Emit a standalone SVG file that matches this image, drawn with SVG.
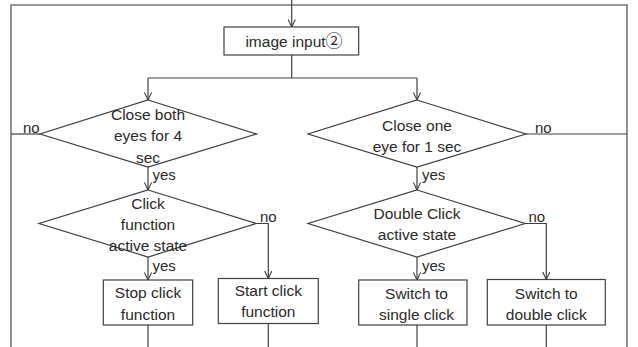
<svg xmlns="http://www.w3.org/2000/svg" width="638" height="347" viewBox="0 0 638 347">
  <defs>
    <marker id="arrow" viewBox="0 0 10 10" refX="9.5" refY="5" markerWidth="8" markerHeight="8" markerUnits="userSpaceOnUse" orient="auto">
      <polyline points="0,0.5 9.5,5 0,9.5" fill="none" stroke="#404040" stroke-width="1.4"/>
    </marker>
    <style>
      .frame { fill: none; stroke: #777777; stroke-width: 1.6; }
      .shape { fill: #ffffff; stroke: #404040; stroke-width: 1.2; }
      .line { fill: none; stroke: #404040; stroke-width: 1.2; }
      .txt { font-family: "Liberation Sans", Arial, "Noto Sans CJK SC", sans-serif; font-size: 15.5px; fill: #2a2a2a; text-anchor: middle; }
      .circ { font-family: "Noto Sans CJK SC", "DejaVu Sans", sans-serif; font-size: 17px; }
      .lbl { font-family: "Liberation Sans", Arial, sans-serif; font-size: 15px; fill: #2a2a2a; }
    </style>
  </defs>

  <rect width="638" height="347" fill="#ffffff"/>

  <!-- outer loop-back frame -->
  <polyline class="frame" points="11,347 11,5 627,5 627,347"/>

  <!-- connectors -->
  <g id="connectors">
    <line class="line" x1="291.7" y1="0" x2="291.7" y2="27" marker-end="url(#arrow)"/>
    <polyline class="line" points="291.7,55 291.7,78"/>
    <polyline class="line" points="148,78 417,78"/>
    <line class="line" x1="148" y1="78" x2="148" y2="100" marker-end="url(#arrow)"/>
    <line class="line" x1="417" y1="78" x2="417" y2="100" marker-end="url(#arrow)"/>

    <line class="line" x1="11" y1="134" x2="40" y2="134"/>
    <line class="line" x1="526" y1="134" x2="627" y2="134"/>

    <line class="line" x1="148" y1="167" x2="148" y2="190" marker-end="url(#arrow)"/>
    <line class="line" x1="417" y1="167" x2="417" y2="190" marker-end="url(#arrow)"/>

    <line class="line" x1="148" y1="257" x2="148" y2="280" marker-end="url(#arrow)"/>
    <polyline class="line" points="256,223.5 268.3,223.5 268.3,278.5" marker-end="url(#arrow)"/>
    <line class="line" x1="417" y1="257" x2="417" y2="280" marker-end="url(#arrow)"/>
    <polyline class="line" points="525,223.5 546.3,223.5 546.3,279.5" marker-end="url(#arrow)"/>

    <line class="line" x1="148" y1="325" x2="148" y2="347"/>
    <line class="line" x1="268.3" y1="323.3" x2="268.3" y2="347"/>
    <line class="line" x1="417" y1="325" x2="417" y2="347"/>
    <line class="line" x1="546.3" y1="325" x2="546.3" y2="347"/>

    <text class="lbl" x="23" y="132.5">no</text>
    <text class="lbl" x="535" y="132.5">no</text>
    <text class="lbl" x="152.5" y="180">yes</text>
    <text class="lbl" x="422" y="180">yes</text>
    <text class="lbl" x="260" y="222">no</text>
    <text class="lbl" x="528.5" y="222">no</text>
    <text class="lbl" x="152.5" y="271">yes</text>
    <text class="lbl" x="422" y="271">yes</text>
  </g>

  <g id="image-input">
    <rect class="shape" x="224" y="27" width="134.7" height="28"/>
    <text class="txt" x="294" y="46.5">image input<tspan class="circ">②</tspan></text>
  </g>

  <g id="close-both-eyes">
    <polygon class="shape" points="148,100 256.5,134 148,167 40,134"/>
    <text class="txt" x="148" y="119.5">Close both</text>
    <text class="txt" x="148" y="141">eyes for 4</text>
    <text class="txt" x="148" y="162.5">sec</text>
  </g>

  <g id="close-one-eye">
    <polygon class="shape" points="417,100 526,134 417,167 308,134"/>
    <text class="txt" x="417" y="130.5">Close one</text>
    <text class="txt" x="417" y="151.5">eye for 1 sec</text>
  </g>

  <g id="click-active">
    <polygon class="shape" points="148,190 256,223.5 148,257 39,223.5"/>
    <text class="txt" x="148" y="208.5">Click</text>
    <text class="txt" x="148" y="229.5">function</text>
    <text class="txt" x="148" y="251">active state</text>
  </g>

  <g id="double-click-active">
    <polygon class="shape" points="417,190 525,223.5 417,257 308,223.5"/>
    <text class="txt" x="417" y="218.5">Double Click</text>
    <text class="txt" x="417" y="240">active state</text>
  </g>

  <g id="stop-click">
    <rect class="shape" x="103.3" y="280" width="89.4" height="45"/>
    <text class="txt" x="148" y="298">Stop click</text>
    <text class="txt" x="148" y="319.5">function</text>
  </g>

  <g id="start-click">
    <rect class="shape" x="218.3" y="278.5" width="100" height="45"/>
    <text class="txt" x="268.3" y="296">Start click</text>
    <text class="txt" x="268.3" y="317">function</text>
  </g>

  <g id="switch-single">
    <rect class="shape" x="358.7" y="280" width="108.3" height="45"/>
    <text class="txt" x="416.5" y="298.5">Switch to</text>
    <text class="txt" x="416.5" y="319.5">single click</text>
  </g>

  <g id="switch-double">
    <rect class="shape" x="487.3" y="279.5" width="118" height="45.5"/>
    <text class="txt" x="546.3" y="298.5">Switch to</text>
    <text class="txt" x="546.3" y="319.5">double click</text>
  </g>
</svg>
